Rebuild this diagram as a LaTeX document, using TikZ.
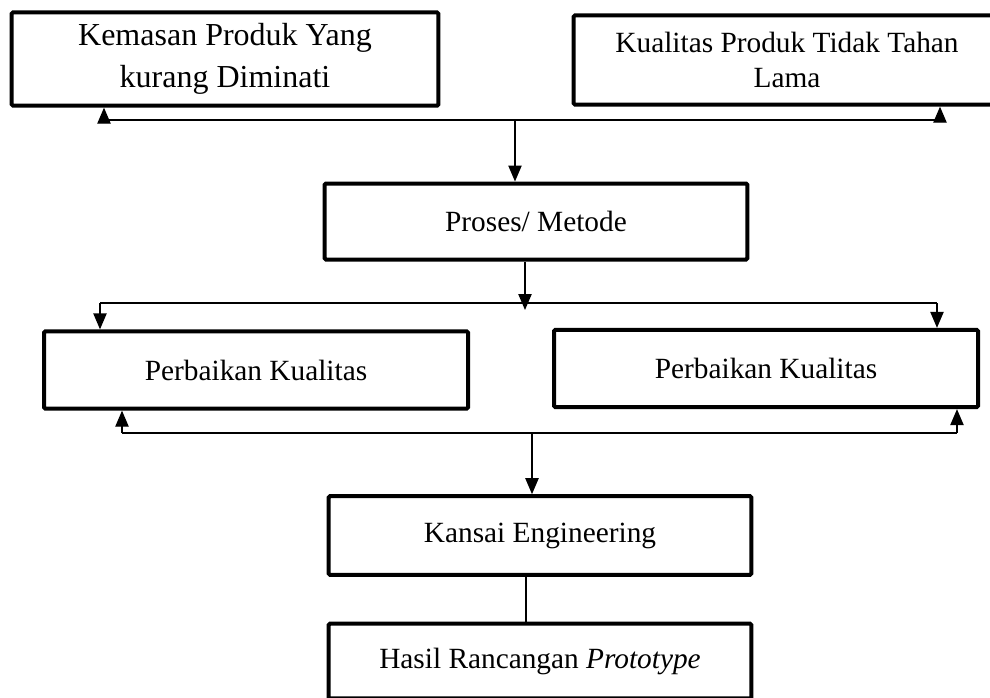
\documentclass[tikz,border=0pt]{standalone}
\usepackage{fontspec}
\setmainfont{Liberation Serif}
\usetikzlibrary{arrows.meta,positioning}

\begin{document}
\begin{tikzpicture}[
  x=0.75pt, y=-0.75pt,
  every node/.style={align=center},
  box/.style={draw, line width=3pt, rounded corners=1pt, fill=white,
              minimum width=318pt, minimum height=58pt,
              font=\fontsize{22}{26}\selectfont},
  arr/.style={-{Triangle[length=12pt,width=10pt]}, line width=1pt},
  ln/.style={line width=1pt}
]
\useasboundingbox (0,0) rectangle (990,697);

% top row
\node[box, minimum width=320pt, minimum height=70pt,
      font=\fontsize{24}{31}\selectfont] (kemasan) at (225,59)
      {Kemasan Produk Yang\\kurang Diminati};
\node[box, minimum width=320pt, minimum height=67pt] (kualitas) at (787,60)
      {Kualitas Produk Tidak Tahan\\Lama};
\node[box, minimum width=317pt, minimum height=57pt] (proses) at (536,221.5)
      {Proses/ Metode};

% perbaikan
\node[box] (perb1) at (256,370) {Perbaikan Kualitas};
\node[box] (perb2) at (766,368.5) {Perbaikan Kualitas};

% bottom
\node[box, minimum width=317pt, minimum height=59pt] (kansai) at (540,535.5)
      {Kansai Engineering};
\node[box, minimum width=317pt, minimum height=56pt] (hasil) at (540,661)
      {Hasil Rancangan \textit{Prototype}};

% bus coordinates
\coordinate (t1) at (104,120);
\coordinate (t2) at (940,120);
\coordinate (tm) at (515,120);
\coordinate (m1) at (100,303);
\coordinate (m2) at (937,303);
\coordinate (mm) at (525,310);
\coordinate (b1) at (122,433);
\coordinate (b2) at (957,433);
\coordinate (bm) at (532,432);

\draw[ln] (t1) -- (t2);
\draw[arr] (t1) -- (t1 |- kemasan.south);
\draw[arr] (t2) -- (t2 |- kualitas.south);
\draw[arr] (tm) -- (tm |- proses.north);

\draw[ln] (m1) -- (m2);
\draw[arr] (mm |- proses.south) -- (mm);
\draw[arr] (m1) -- (m1 |- perb1.north);
\draw[arr] (m2) -- (m2 |- perb2.north);

\draw[ln] (b1) -- (b2);
\draw[arr] (b1) -- (b1 |- perb1.south);
\draw[arr] (b2) -- (b2 |- perb2.south);
\draw[arr] (bm) -- (bm |- kansai.north);

\draw[ln] ([xshift=-10.5pt]kansai.south) -- ([xshift=-10.5pt]hasil.north);
\end{tikzpicture}
\end{document}
